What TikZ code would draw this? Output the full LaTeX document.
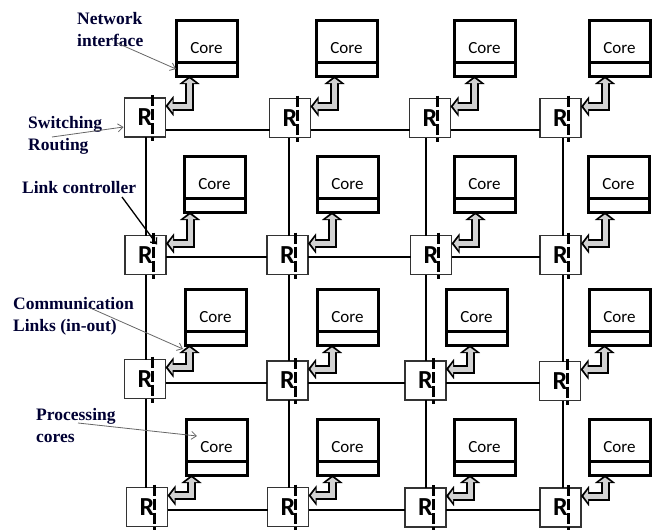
\documentclass[tikz,border=0pt]{standalone}
\usepackage{fontspec}
\setmainfont{Liberation Serif}
\newfontfamily\corefont{Carlito}
\usetikzlibrary{arrows.meta,calc,positioning}

\tikzset{
  core/.style={draw, line width=3pt, minimum width=61pt, minimum height=42pt, inner sep=0pt, outer sep=0pt, text height=25pt, text depth=0pt, font=\corefont\fontsize{17}{17}\selectfont},
  nistrip/.style={draw, line width=3pt, minimum width=61pt, minimum height=14pt, inner sep=0pt, outer sep=0pt},
  router/.style={draw=black!80, line width=1.2pt, fill=white, minimum width=41pt, minimum height=39pt, inner sep=0pt, outer sep=0pt, font=\corefont\bfseries\fontsize{26}{26}\selectfont},
  ctrlbar/.style={line width=3pt, dash pattern=on 11pt off 3pt},
  link/.style={line width=1.8pt},
  niarrow/.style={line width=9pt, {Triangle[length=8pt,width=20pt]}-{Triangle[length=8pt,width=20pt]}},
  niarrowfill/.style={line width=5pt, draw=gray!35, {Triangle[length=4.5pt,width=12pt]}-{Triangle[length=4.5pt,width=12pt]}, shorten <=2.5pt, shorten >=2.5pt},
  note/.style={font=\bfseries\fontsize{17.5}{22}\selectfont, align=left, inner sep=0pt, text=black!80!blue},
  pointer/.style={draw=black!60, line width=0.8pt, -{Straight Barb[length=5pt,width=8pt]}},
}

\begin{document}
\begin{tikzpicture}[x=1pt, y=-1pt]
  \useasboundingbox (0,0) rectangle (657,530);

  % cores with their network interface
  \foreach \n/\x/\y in {11/176/20, 12/316/20, 13/454/20, 14/589/20,
                        21/184/156, 22/317/156, 23/454/156, 24/588/156,
                        31/185/289, 32/317/289, 33/446/289, 34/589/289,
                        41/186/419, 42/317/419, 43/454/419, 44/589/419}
  {
    \node[core, anchor=north west] (c\n) at (\x,\y) {Core};
    \node[nistrip, below=0pt of c\n] (n\n) {};
  }

  % routers
  \foreach \n/\x/\y in {11/145/117.5, 12/290/118, 13/430/118, 14/560.5/118,
                        21/145.5/255, 22/287.5/255, 23/431/255, 24/560.5/255,
                        31/145/379, 32/287.5/380.5, 33/425.5/380.5, 34/560/381,
                        41/147/507, 42/288/507, 43/425.5/507.5, 44/560.5/507.5}
    \node[router] (r\n) at (\x,\y) {R};

  % links between routers
  \foreach \r/\y in {1/130, 2/257, 3/383, 4/510}
    \foreach \a/\b in {1/2, 2/3, 3/4}
      \draw[link] (r\r\a.east |- 0,\y) -- (r\r\b.west |- 0,\y);
  \foreach \c/\x in {1/146, 2/289, 3/426, 4/563}
    \foreach \a/\b in {1/2, 2/3, 3/4}
      \draw[link] (r\a\c.south -| \x,0) -- (r\b\c.north -| \x,0);

  % link controllers and core to router arrows
  \foreach \n in {11,12,13,14,21,22,23,24,31,32,33,34,41,42,43,44}
  {
    \draw[ctrlbar] ($(r\n.north east)+(-13,-3)$) -- ($(r\n.south east)+(-13,4)$);
    \coordinate (k\n) at ($(r\n.north east)+(24,8)$);
    \draw[niarrow] (n\n.south -| k\n) -- (k\n) -- (r\n.east |- k\n);
    \draw[niarrowfill] (n\n.south -| k\n) -- (k\n) -- (r\n.east |- k\n);
  }

  % annotations
  \node[note, anchor=north west] (lni) at (77,12) {Network\\interface};
  \node[note, anchor=north west] (lsw) at (28,116) {Switching\\Routing};
  \node[note, anchor=north west] (llc) at (22,181) {Link controller};
  \node[note, anchor=north west] (lcl) at (13,297) {Communication\\Links (in-out)};
  \node[note, anchor=north west] (lpc) at (36,408) {Processing\\cores};

  \coordinate (pni) at (117,43);
  \coordinate (psw) at (52,137);
  \coordinate (plc) at (122,197);
  \coordinate (pcl) at (88,307);
  \coordinate (ppc) at (78,423);
  \draw[pointer] (pni) -- (n11.west);
  \draw[pointer] (psw) -- ($(r11.south west)+(-1,-10)$);
  \draw[pointer, draw=black, line width=1.3pt] (plc) -- ($(r21.north east)+(-9,9)$);
  \draw[pointer] (pcl) -- ($(n31.south west)+(-2,4)$);
  \draw[pointer] (ppc) -- ($(c41.west)+(11,-4)$);
\end{tikzpicture}
\end{document}
